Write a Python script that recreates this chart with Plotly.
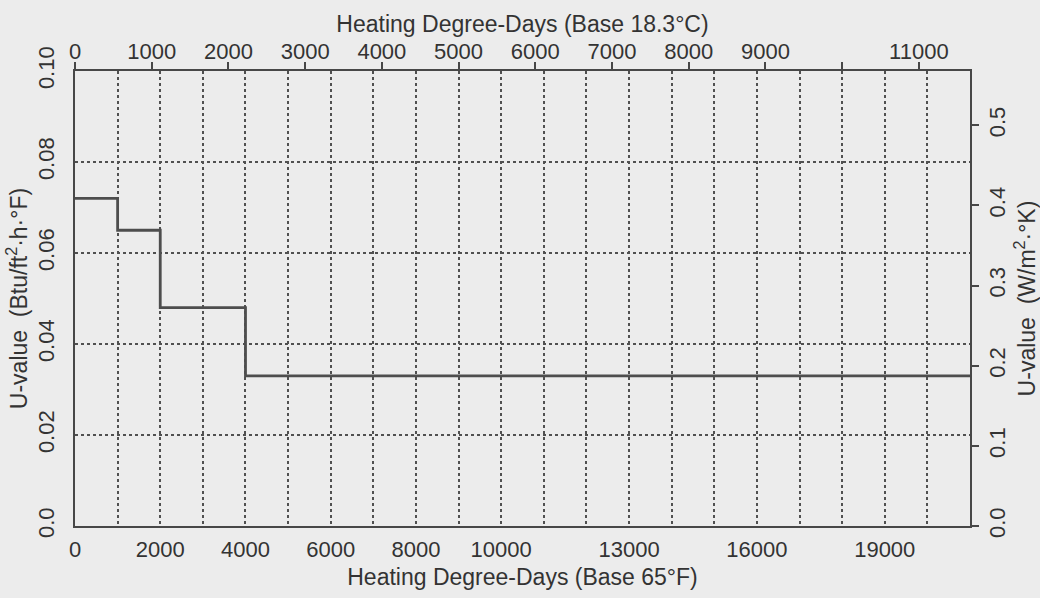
import plotly.graph_objects as go

# Data
hdd_f_breaks = [0, 1000, 2000, 4000, 21000]          # Heating degree-days, base 65°F
u_btu = [0.072, 0.065, 0.048, 0.033, 0.033]          # U-value Btu/ft2·h·°F

x_max_f = 21000
bottom_tickvals = [0, 2000, 4000, 6000, 8000, 10000, 13000, 16000, 19000]
bottom_ticktext = [str(v) for v in bottom_tickvals]
top_tickvals = [0, 1000, 2000, 3000, 4000, 5000, 6000, 7000, 8000, 9000, 11000]
top_ticktext = [str(v) for v in top_tickvals]
left_tickvals = [0, 0.02, 0.04, 0.06, 0.08, 0.10]
left_ticktext = ["0.0", "0.02", "0.04", "0.06", "0.08", "0.10"]
right_tickvals = [0, 0.1, 0.2, 0.3, 0.4, 0.5]
right_ticktext = ["0.0", "0.1", "0.2", "0.3", "0.4", "0.5"]
F_PER_C = 1.8
SI_FACTOR = 5.678

ink = "#333333"
bg = "#ececec"
fam = "Liberation Sans, Arial, sans-serif"
tickfont = dict(family=fam, size=22, color=ink)
titlefont = dict(family=fam, size=23, color=ink)

fig = go.Figure()
fig.add_trace(go.Scatter(x=hdd_f_breaks, y=u_btu, mode="lines", line_shape="hv",
                         line=dict(color="#4d4d4d", width=2.8), showlegend=False,
                         hoverinfo="skip"))
# invisible trace to activate top/right axes
fig.add_trace(go.Scatter(x=[0, x_max_f / F_PER_C], y=[0, 0.1 * SI_FACTOR], xaxis="x2", yaxis="y2",
                         mode="markers", marker=dict(opacity=0), showlegend=False, hoverinfo="skip"))

grid = dict(gridcolor="#505050", griddash="dot", gridwidth=1.8)

fig.update_layout(
    width=1040, height=598,
    margin=dict(l=75, r=70, t=71, b=72),
    paper_bgcolor=bg, plot_bgcolor=bg,
    font=dict(family=fam, size=22, color=ink),
    xaxis=dict(range=[0, x_max_f], tickvals=bottom_tickvals, ticktext=bottom_ticktext,
               tickfont=tickfont,
               showgrid=True, **grid, ticks="", showline=True, mirror=True,
               linecolor="#474747", linewidth=2.4, zeroline=False,
               minor=dict(dtick=1000, tick0=0, showgrid=True, **grid, ticks=""),
               title=dict(text="Heating Degree-Days (Base 65°F)", standoff=8, font=titlefont),
               ticklabelstandoff=2),
    xaxis2=dict(range=[0, x_max_f / F_PER_C], overlaying="x", side="top",
                tickvals=top_tickvals, ticktext=top_ticktext, ticks="outside",
                tickfont=tickfont,
                ticklen=8, tickwidth=2, tickcolor="#474747", showgrid=False,
                minor=dict(dtick=1000, tick0=0, ticks="outside", ticklen=8, tickwidth=2,
                           tickcolor="#474747", showgrid=False),
                zeroline=False, showline=False, ticklabelstandoff=-6,
                title=dict(text="Heating Degree-Days (Base 18.3°C)", standoff=0, font=titlefont)),
    yaxis=dict(range=[0, 0.1], tickvals=left_tickvals, ticktext=left_ticktext,
               tickfont=tickfont,
               tickangle=-90, showgrid=True, **grid, ticks="", showline=True,
               mirror=True, linecolor="#474747", linewidth=2.4, zeroline=False,
               ticklabelstandoff=10,
               title=dict(text="U-value  (Btu/ft<sup>2</sup>·h·°F)", standoff=0, font=titlefont)),
    yaxis2=dict(range=[0, 0.1 * SI_FACTOR], overlaying="y", side="right",
                tickvals=right_tickvals, ticktext=right_ticktext, tickangle=-90,
                tickfont=tickfont,
                ticks="outside", ticklen=8, tickwidth=2, tickcolor="#474747",
                showgrid=False, zeroline=False, showline=False, ticklabelstandoff=0,
                title=dict(text="U-value  (W/m<sup>2</sup>·°K)", standoff=0, font=titlefont)),
)

fig.write_html("out.html")
